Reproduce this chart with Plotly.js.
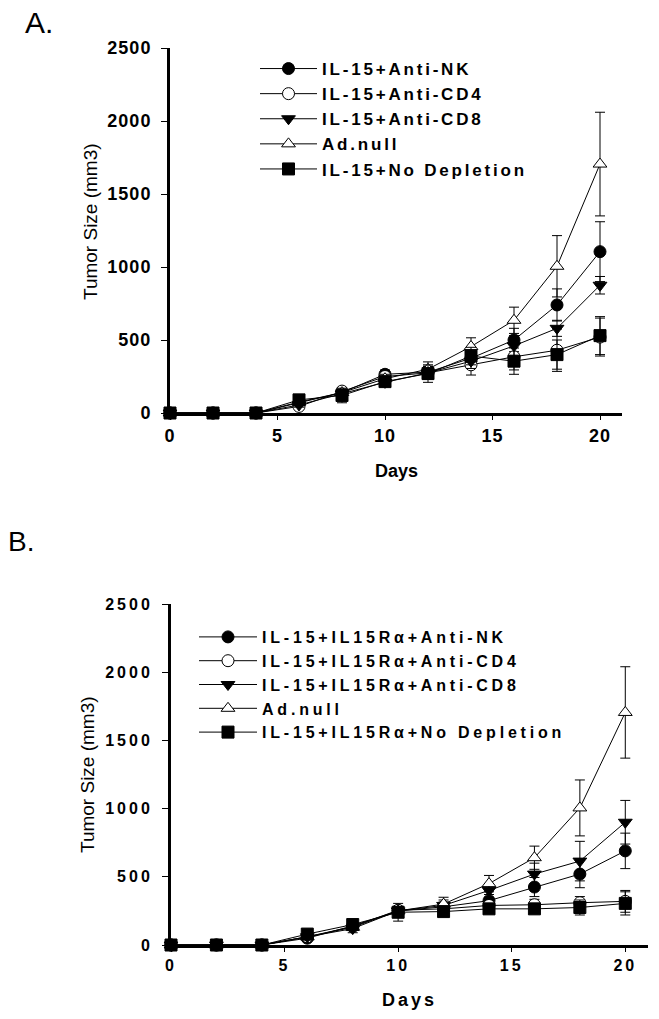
<!DOCTYPE html>
<html>
<head>
<meta charset="utf-8">
<script src="https://cdn.plot.ly/plotly-3.0.1.min.js"></script>
<style>
  html, body { margin: 0; padding: 0; background: #fff; }
  #chart { width: 659px; height: 1019px; }
  .legendtext { letter-spacing: 2.8px; }
  .legend2text { letter-spacing: 3.8px; }
  g.ytick text, g.xtick text { letter-spacing: 1px; }
  g.y2tick text, g.x2tick text { letter-spacing: 3px; }
  .annotation[data-index="5"] text { letter-spacing: 3px; }
</style>
</head>
<body>
<div id="chart"></div>
<script>
// ---------- data ----------
const days = [0, 2, 4, 6, 8, 10, 12, 14, 16, 18, 20];

const namesA = ["IL-15+Anti-NK", "IL-15+Anti-CD4", "IL-15+Anti-CD8", "Ad.null", "IL-15+No Depletion"];
const namesB = ["IL-15+IL15R\u03b1+Anti-NK", "IL-15+IL15R\u03b1+Anti-CD4", "IL-15+IL15R\u03b1+Anti-CD8", "Ad.null", "IL-15+IL15R\u03b1+No Depletion"];

// Panel A
const nkA       = [0, 0, 0, 70, 140, 265, 280, 375, 500, 740, 1105];
const nkAErr    = [0, 0, 0, 15, 25, 30, 40, 50, 80, 110, 205];
const cd4A      = [0, 0, 0, 45, 150, 250, 275, 330, 385, 430, 520];
const cd4AErr   = [0, 0, 0, 15, 25, 30, 45, 70, 90, 145, 130];
const cd8A      = [0, 0, 0, 55, 130, 210, 275, 355, 460, 580, 875];
const cd8AErr   = [0, 0, 0, 15, 25, 30, 40, 50, 70, 55, 60];
const adnullA   = [0, 0, 0, 75, 140, 235, 300, 455, 635, 1005, 1705];
const adnullAErr= [0, 0, 0, 15, 25, 30, 50, 60, 90, 210, 355];
const nodepA    = [0, 0, 0, 90, 120, 215, 270, 390, 355, 400, 530];
const nodepAErr = [0, 0, 0, 15, 50, 35, 60, 60, 90, 100, 130];

// Panel B
const nkB       = [0, 0, 0, 50, 140, 250, 280, 325, 425, 520, 690];
const nkBErr    = [0, 0, 0, 10, 20, 30, 35, 45, 70, 100, 130];
const cd4B      = [0, 0, 0, 60, 135, 255, 265, 290, 295, 310, 320];
const cd4BErr   = [0, 0, 0, 10, 20, 30, 30, 40, 40, 45, 80];
const cd8B      = [0, 0, 0, 60, 120, 250, 290, 400, 520, 615, 900];
const cd8BErr   = [0, 0, 0, 10, 30, 30, 40, 50, 80, 145, 160];
const adnullB   = [0, 0, 0, 60, 130, 250, 300, 450, 640, 1005, 1705];
const adnullBErr= [0, 0, 0, 10, 20, 30, 50, 60, 85, 205, 335];
const nodepB    = [0, 0, 0, 80, 150, 240, 245, 265, 265, 275, 305];
const nodepBErr = [0, 0, 0, 10, 20, 65, 25, 30, 30, 55, 85];

const yTicks = [0, 500, 1000, 1500, 2000, 2500];
const xTicks = [0, 5, 10, 15, 20];

// ---------- styling ----------
const FONT = "Liberation Sans, Arial, sans-serif";
const markerStyles = [
  { symbol: "circle", color: "black" },
  { symbol: "circle", color: "white" },
  { symbol: "triangle-down", color: "black" },
  { symbol: "triangle-up", color: "white" },
  { symbol: "square", color: "black" }
];

function mk(name, y, err, i, xa, ya, leg) {
  const ms = markerStyles[i];
  return {
    type: "scatter", mode: "lines+markers", name: name,
    x: days, y: y, xaxis: xa, yaxis: ya, legend: leg,
    cliponaxis: false,
    line: { color: "black", width: 1 },
    marker: { symbol: ms.symbol, color: ms.color, size: 12, line: { color: "black", width: 1 } },
    error_y: { type: "data", array: err, visible: true, color: "black", thickness: 1, width: 5 }
  };
}

const seriesA = [nkA, cd4A, cd8A, adnullA, nodepA];
const errA = [nkAErr, cd4AErr, cd8AErr, adnullAErr, nodepAErr];
const seriesB = [nkB, cd4B, cd8B, adnullB, nodepB];
const errB = [nkBErr, cd4BErr, cd8BErr, adnullBErr, nodepBErr];

const traces = [];
for (let i = 0; i < 5; i++) traces.push(mk(namesA[i], seriesA[i], errA[i], i, "x", "y", "legend"));
for (let i = 0; i < 5; i++) traces.push(mk(namesB[i], seriesB[i], errB[i], i, "x2", "y2", "legend2"));

const W = 659, H = 1019;
const px = v => v / W;
const py = v => 1 - v / H;

function xax(domain, size) {
  return {
    domain: domain, range: [0, 21], tickvals: xTicks, ticktext: xTicks.map(String),
    showline: true, linecolor: "black", linewidth: 3, showgrid: false, zeroline: false,
    ticks: "outside", ticklen: 4, tickwidth: 1, tickcolor: "black",
    tickfont: { family: FONT, size: size, color: "black", weight: "bold" },
    automargin: false, fixedrange: true
  };
}
function yax(domain, size) {
  return {
    domain: domain, range: [0, 2500], tickvals: yTicks, ticktext: yTicks.map(String),
    showline: true, linecolor: "black", linewidth: 3, showgrid: false, zeroline: false,
    ticks: "outside", ticklen: 6, tickwidth: 1, tickcolor: "black",
    ticklabelstandoff: 6,
    tickfont: { family: FONT, size: size, color: "black", weight: "bold" },
    automargin: false, fixedrange: true
  };
}

const xa = xax([px(170), px(621.5)], 18); xa.anchor = "y";
const ya = yax([py(413), py(48)], 18); ya.anchor = "x";
const xb = xax([px(171), px(648)], 16); xb.anchor = "y2";
const yb = yax([py(945), py(604)], 16); yb.anchor = "x2";

const layout = {
  width: W, height: H,
  margin: { l: 0, r: 0, t: 0, b: 0 },
  paper_bgcolor: "white", plot_bgcolor: "white",
  font: { family: FONT, color: "black" },
  showlegend: true,
  xaxis: xa, yaxis: ya, xaxis2: xb, yaxis2: yb,
  legend: {
    x: px(255), y: py(51), xanchor: "left", yanchor: "top",
    bgcolor: "rgba(0,0,0,0)", borderwidth: 0, itemwidth: 57,
    font: { family: FONT, size: 17, color: "black", weight: "bold" },
    traceorder: "normal"
  },
  legend2: {
    x: px(194), y: py(620), xanchor: "left", yanchor: "top",
    bgcolor: "rgba(0,0,0,0)", borderwidth: 0, itemwidth: 58,
    font: { family: FONT, size: 16, color: "black", weight: "bold" },
    traceorder: "normal"
  },
  annotations: [
    { text: "A.", xref: "paper", yref: "paper", x: px(23), y: py(23), xanchor: "left", yanchor: "middle",
      showarrow: false, font: { family: FONT, size: 30, color: "black" } },
    { text: "B.", xref: "paper", yref: "paper", x: px(6), y: py(541), xanchor: "left", yanchor: "middle",
      showarrow: false, font: { family: FONT, size: 28, color: "black" } },
    { text: "Tumor Size (mm3)", xref: "paper", yref: "paper", x: px(91), y: py(222), xanchor: "center", yanchor: "middle",
      textangle: -90, showarrow: false, font: { family: FONT, size: 19, color: "black" } },
    { text: "Tumor Size (mm3)", xref: "paper", yref: "paper", x: px(87), y: py(775), xanchor: "center", yanchor: "middle",
      textangle: -90, showarrow: false, font: { family: FONT, size: 19, color: "black" } },
    { text: "Days", xref: "paper", yref: "paper", x: px(396), y: py(471), xanchor: "center", yanchor: "middle",
      showarrow: false, font: { family: FONT, size: 18, color: "black", weight: "bold" } },
    { text: "Days", xref: "paper", yref: "paper", x: px(409), y: py(1000), xanchor: "center", yanchor: "middle",
      showarrow: false, font: { family: FONT, size: 18, color: "black", weight: "bold" } }
  ]
};

Plotly.newPlot("chart", traces, layout, { staticPlot: true, displayModeBar: false });
</script>
</body>
</html>
